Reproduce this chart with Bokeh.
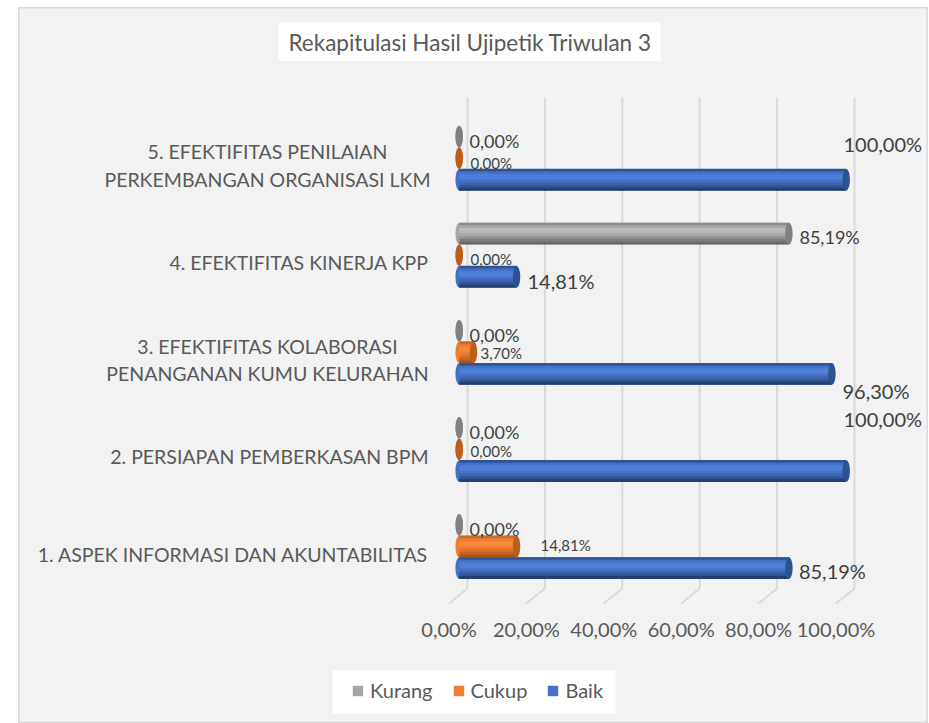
from bokeh.plotting import figure
from bokeh.models import (Range1d, LinearAxis, FixedTicker, Label, Legend, LegendItem, ColumnDataSource)
from bokeh.core.properties import value
from bokeh.embed import file_html
from bokeh.resources import INLINE

FONT = "Lato"
title_text = "Rekapitulasi Hasil Ujipetik Triwulan 3"
categories = [
    "1. ASPEK INFORMASI DAN AKUNTABILITAS",
    "2. PERSIAPAN PEMBERKASAN BPM",
    "3. EFEKTIFITAS KOLABORASI\nPENANGANAN KUMU KELURAHAN",
    "4. EFEKTIFITAS KINERJA KPP",
    "5. EFEKTIFITAS PENILAIAN\nPERKEMBANGAN ORGANISASI LKM",
]
kurang = [0.00, 0.00, 0.00, 85.19, 0.00]
cukup = [14.81, 0.00, 3.70, 0.00, 0.00]
baik = [85.19, 100.00, 96.30, 14.81, 100.00]
x_ticks = [0, 20, 40, 60, 80, 100]
x_tick_labels = ["0,00%", "20,00%", "40,00%", "60,00%", "80,00%", "100,00%"]

LEFT, TOP = 18, 7
W, H = 910, 716
PX_X0, PX_PER_X = 458.7, 3.87          # picture px of value 0, px per percent
PX_Y1, PX_PER_Y = 546, 97.1            # picture px of category 1 centre, px per category
xr = Range1d((LEFT - PX_X0) / PX_PER_X, (LEFT + W - PX_X0) / PX_PER_X)
yr = Range1d(1 - (TOP + H - PX_Y1) / PX_PER_Y, 1 + (PX_Y1 - TOP) / PX_PER_Y)

p = figure(width=W, height=H, x_range=xr, y_range=yr, output_backend="svg", toolbar_location=None,
           min_border=0, min_border_left=0, min_border_right=0, min_border_top=0, min_border_bottom=0,
           x_axis_location=None, y_axis_location=None, background_fill_color="#f2f2f2",
           border_fill_color="#f2f2f2", margin=(TOP, 0, 0, LEFT))
p.grid.visible = False
p.outline_line_color = "#d9d9d9"
p.outline_line_width = 2

def px(page_x):
    return (page_x - PX_X0) / PX_PER_X

def py(page_y):
    return 1 + (PX_Y1 - page_y) / PX_PER_Y

# wall grid lines and floor ticks (3-D look)
WALL = 8.3 / PX_PER_X
FLOOR = -10.2 / PX_PER_X
wall_x = [t + WALL for t in x_ticks]
floor_x = [t + FLOOR for t in x_ticks]
p.segment(x0=wall_x, x1=wall_x, y0=[py(588)] * 6, y1=[py(97)] * 6, line_color="#d9d9d9", line_width=2)
p.segment(x0=wall_x, x1=floor_x, y0=[py(588)] * 6, y1=[py(603)] * 6, line_color="#d9d9d9", line_width=2)

# value axis, on the floor's front edge
p.extra_x_ranges["floor"] = Range1d(xr.start - FLOOR, xr.end - FLOOR)
ax = LinearAxis(x_range_name="floor", fixed_location=py(603), ticker=FixedTicker(ticks=x_ticks),
                major_label_overrides=dict(zip(x_ticks, x_tick_labels)),
                axis_line_color=None, major_tick_line_color=None, minor_tick_line_color=None,
                major_label_standoff=7, major_label_text_font=FONT, major_label_text_font_size="20px",
                major_label_text_color="#595959")
p.add_layout(ax, "below")

# category labels: one line labels on the axis, flush right; two line labels centred as a block
LABEL_DOWN = 7.5
shift = LABEL_DOWN / PX_PER_Y
p.extra_y_ranges["cats"] = Range1d(yr.start + shift, yr.end + shift)
cat_pos = list(range(1, 6))
single = [c for c in cat_pos if "\n" not in categories[c - 1]]
double = [c for c in cat_pos if "\n" in categories[c - 1]]
ay = LinearAxis(y_range_name="cats", fixed_location=px(428), ticker=FixedTicker(ticks=single),
                major_label_overrides={c: categories[c - 1] for c in single},
                axis_line_color=None, major_tick_line_color=None, minor_tick_line_color=None,
                major_tick_out=0, major_label_standoff=0, major_label_text_font=FONT,
                major_label_text_font_size="19.5px", major_label_text_color="#595959")
p.add_layout(ay, "left")
p.text(x=[px(267)] * len(double), y=double, text=[categories[c - 1] for c in double], y_offset=LABEL_DOWN,
       text_align="center", text_baseline="middle", text_font=value(FONT), text_font_size="19.5px",
       text_color="#595959", text_line_height=1.2)

# bars
BAR = 21.6 / PX_PER_Y
series = [
    ("Kurang", kurang, 1, "#a5a5a5", "#808080",
     ["#8c8c8c", "#a8a8a8", "#bdbdbd", "#b8b8b8", "#a8a8a8", "#959595", "#7e7e7e", "#6a6a6a"]),
    ("Cukup", cukup, 0, "#ed7d31", "#b9601f",
     ["#c96a28", "#ec7c30", "#f58a3c", "#f48a3c", "#ec7c30", "#dc7029", "#c56323", "#a8531c"]),
    ("Baik", baik, -1, "#4472c4", "#2c5390",
     ["#2f5597", "#4472c4", "#4f80d9", "#4f80d9", "#4472c4", "#3b65ad", "#2f5597", "#233f70"]),
]
legend_items = []
for name, vals, slot, base, dark, shades in series:
    ys = [c + slot * BAR for c in cat_pos]
    p.ellipse(x=[0] * 5, y=ys, width=7.5, height=21.6, width_units="screen", height_units="screen",
              fill_color=base, line_color=None)
    r = p.hbar(y=ys, left=[0] * 5, right=vals, height=BAR, fill_color=base, line_color=None)
    legend_items.append((name, r))
    n = len(shades)
    for k, col in enumerate(shades):
        off = (0.5 - (k + 0.5) / n) * BAR
        p.hbar(y=[y + off for y in ys], left=[0] * 5, right=vals, height=BAR / n * 1.1,
               fill_color=col, line_color=None)
    p.ellipse(x=vals, y=ys, width=7.5, height=21.6, width_units="screen", height_units="screen",
              fill_color=dark, line_color=None)

# data labels
def fmt(v):
    return f"{v:.2f}".replace(".", ",") + "%"

lab_x, lab_y, lab_txt, lab_size, lab_dx, lab_dy = [], [], [], [], [], []
# offsets from the end of each bar, in pixels, for categories 1..5
layout = {
    "Kurang": ([10.3] * 3 + [10.6, 10.3], [3.6, 3.7, 3.8, 2.9, 4], "18px"),
    "Cukup": ([24, 11.3, 7, 11.3, 11.3], [-2, 2, 1, 3.3, 4.4], "15px"),
    "Baik": ([10, -2.7, 10.6, 11, -2.7], [2.4, -52.5, 16.6, 3.7, -36], "20px"),
}
for name, vals, slot, *_ in series:
    dx, dy, sz = layout[name]
    for i, v in enumerate(vals):
        lab_x.append(v)
        lab_y.append(cat_pos[i] + slot * BAR)
        lab_txt.append(fmt(v))
        lab_dx.append(dx[i])
        lab_dy.append(dy[i])
        lab_size.append(sz)
src = ColumnDataSource(dict(x=lab_x, y=lab_y, t=lab_txt, dx=lab_dx, dy=lab_dy, s=lab_size))
p.text(x="x", y="y", text="t", x_offset="dx", y_offset="dy", text_font_size="s", text_font=value(FONT),
       text_align="left", text_baseline="middle", text_color="#404040", source=src)

# title, on a white box
p.quad(left=[px(278)], right=[px(660)], top=[py(22)], bottom=[py(60.5)], fill_color="white", line_color=None)
p.add_layout(Label(x=288 - LEFT, y=H - (55 - TOP), x_units="screen", y_units="screen", text=title_text,
                   text_font=FONT, text_font_size="22.5px", text_color="#595959"))

# legend, on a white box
p.quad(left=[px(332)], right=[px(615)], top=[py(670)], bottom=[py(713)], fill_color="white", line_color=None)
leg = Legend(items=[LegendItem(label=n, renderers=[r]) for n, r in legend_items],
             orientation="horizontal", location=(352 - LEFT - 1, 21), background_fill_color=None,
             border_line_color=None, label_text_font=FONT, label_text_font_size="20px",
             label_text_color="#595959", glyph_width=13, glyph_height=13, spacing=19, padding=8,
             margin=0, label_standoff=6)
p.add_layout(leg, "center")

open("out.html", "w").write(file_html(p, INLINE))
